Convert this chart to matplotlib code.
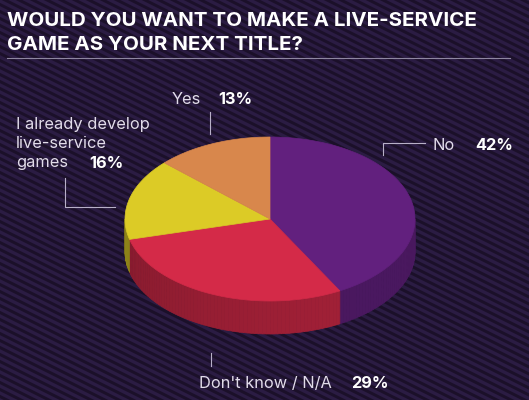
import numpy as np
import matplotlib
matplotlib.use("Agg")
from matplotlib import pyplot as plt
from matplotlib.patches import Polygon
import matplotlib.colors as mcolors

# data
labels = ["No", "Don't know / N/A", "I already develop\nlive-service\ngames", "Yes"]
shares = [42, 29, 16, 13]
top_colors = ["#62207e", "#d42a48", "#dccb26", "#d8874c"]
title = ["WOULD YOU WANT TO MAKE A LIVE-SERVICE", "GAME AS YOUR NEXT TITLE?"]

plt.rcParams['font.family'] = ['Inter', 'DejaVu Sans']

W, H = 529, 400
fig = plt.figure(figsize=(W / 100, H / 100), dpi=100)
ax = fig.add_axes([0, 0, 1, 1])
ax.set_xlim(0, W)
ax.set_ylim(H, 0)
ax.axis('off')
fig.patch.set_facecolor('#1b1029')

# diagonal stripes
for c in np.arange(-300, 420, 7):
    xs = np.array([0, W])
    ax.plot(xs, 0.5 * xs + c, color='#2b1c43', lw=2.4, zorder=0)

# pie geometry (pixel space)
cx, cy, a, b, depth = 270, 219, 145, 82, 33

def shade(col, f):
    r, g, bl = mcolors.to_rgb(col)
    return (r * f, g * f, bl * f)

# wedge angles: start at top, go clockwise
bounds = 90 - 3.6 * np.concatenate([[0], np.cumsum(shares)])

# sides (front half only)
for i in range(len(shares)):
    lo, hi = bounds[i + 1], bounds[i]
    for off in (0, -360, 360):
        l2, h2 = max(lo + off, -180), min(hi + off, 0)
        if h2 <= l2:
            continue
        ts = np.linspace(l2, h2, max(int((h2 - l2) / 1.5), 2) + 1)
        for k in range(len(ts) - 1):
            tt = np.radians([ts[k], ts[k + 1]])
            x = cx + a * np.cos(tt)
            y = cy - b * np.sin(tt)
            f = 0.62 + 0.14 * (0.5 + 0.5 * np.cos(np.radians(ts[k] + 40)))
            poly = [(x[0], y[0]), (x[1], y[1]), (x[1], y[1] + depth), (x[0], y[0] + depth)]
            ax.add_patch(Polygon(poly, closed=True, facecolor=shade(top_colors[i], f),
                                 edgecolor=shade(top_colors[i], f), lw=0.5, zorder=2))

# top faces
for i in range(len(shares)):
    ts = np.radians(np.linspace(bounds[i + 1], bounds[i], 120))
    pts = [(cx, cy)] + [(cx + a * np.cos(t), cy - b * np.sin(t)) for t in ts]
    ax.add_patch(Polygon(pts, closed=True, facecolor=top_colors[i],
                         edgecolor=top_colors[i], lw=0.5, zorder=3))

# title
for line, yy in zip(title, [21, 45]):
    ax.text(7, yy, line, color='white', fontsize=14.8, fontweight='bold',
            ha='left', va='center', zorder=5)
ax.plot([7, 510], [58, 58], color='#8e86a0', lw=0.8, zorder=5)

txt = '#e2dcea'
lc = '#b8b0c8'
fs = 11.8

def pct(x, y, v):
    ax.text(x, y, f"{v}%", color='white', fontsize=fs, fontweight='bold', ha='left', va='center')

# Yes
ax.text(172, 100, labels[3], color=txt, fontsize=fs, ha='left', va='center')
pct(218, 100, shares[3])
ax.plot([210, 210], [112, 134], color=lc, lw=0.8)

# already develop
for line, yy in zip(labels[2].split("\n"), [125, 144, 163]):
    ax.text(16, yy, line, color=txt, fontsize=fs, ha='left', va='center')
pct(89, 163, shares[2])
ax.plot([65, 65, 115], [178, 207, 207], color=lc, lw=0.8)

# No
ax.text(433, 145, labels[0], color=txt, fontsize=fs, ha='left', va='center')
pct(475, 145, shares[0])
ax.plot([425, 383, 383], [143, 143, 155], color=lc, lw=0.8)

# Don't know
ax.text(199, 383, labels[1], color=txt, fontsize=fs, ha='left', va='center')
pct(351, 383, shares[1])
ax.plot([211, 211], [353, 366], color=lc, lw=0.8)

fig.savefig('out.png', dpi=100, facecolor=fig.get_facecolor())
